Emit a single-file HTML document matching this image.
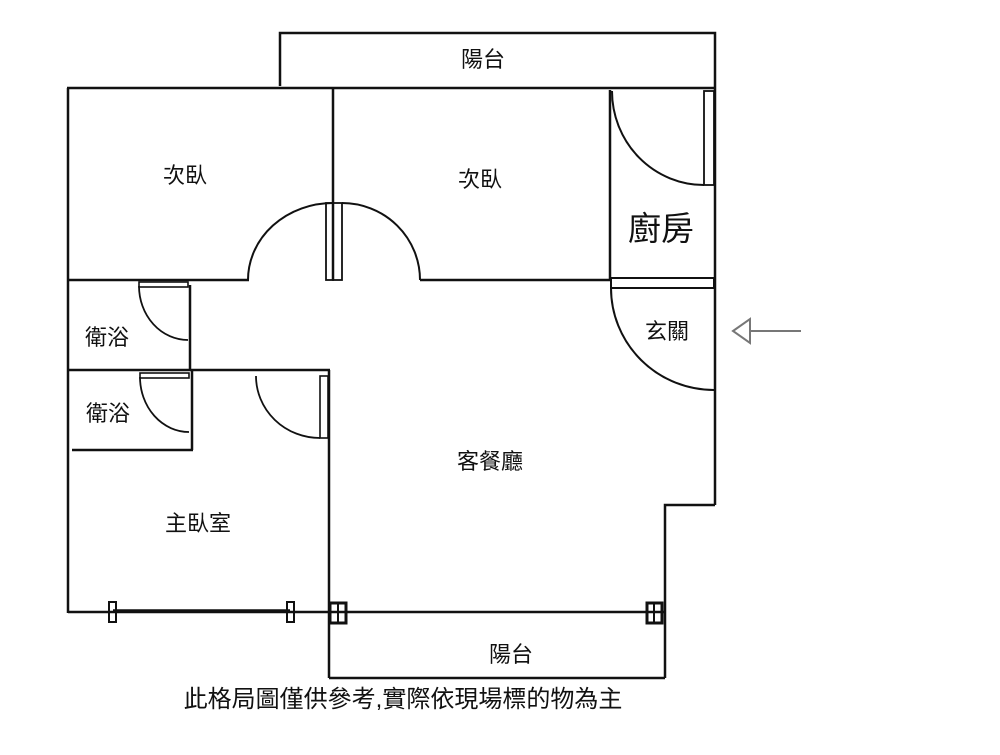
<!DOCTYPE html>
<html><head><meta charset="utf-8"><style>
html,body{margin:0;padding:0;background:#fff;}
svg text{font-family:"Liberation Sans","Noto Sans CJK TC",sans-serif;fill:#111;}
</style></head><body>
<svg width="1000" height="750" viewBox="0 0 1000 750" xmlns="http://www.w3.org/2000/svg">
<g stroke="#111" stroke-width="2.5" fill="none">
<polyline points="280,86 280,33 715,33 715,88"/>
<line x1="67" y1="88" x2="715" y2="88"/>
<line x1="68" y1="88" x2="68" y2="613"/>
<line x1="333" y1="88" x2="333" y2="280"/>
<rect x="326" y="203" width="7" height="77" stroke-width="1.8"/>
<rect x="333" y="203" width="9" height="77" stroke-width="1.8"/>
<path d="M248,280 A85,77 0 0 1 333,203" stroke-width="2"/>
<path d="M342,203 A78,77 0 0 1 420,280" stroke-width="2"/>
<line x1="68" y1="280" x2="249" y2="280"/>
<line x1="420" y1="280" x2="611" y2="280"/>
<line x1="610" y1="90" x2="610" y2="280"/>
<line x1="715" y1="88" x2="715" y2="505"/>
<rect x="704" y="91" width="10" height="94" stroke-width="1.8"/>
<path d="M612,91 A92,94 0 0 0 704,185" stroke-width="2"/>
<rect x="611" y="278" width="103" height="10" stroke-width="2"/>
<path d="M611,288 A103,102 0 0 0 714,390" stroke-width="2"/>
<polyline points="715,505 665,505 665,678"/>
<line x1="190" y1="285" x2="190" y2="370"/>
<rect x="139" y="282" width="49" height="5" stroke-width="1.6"/>
<path d="M139,286 A49,54 0 0 0 188,340" stroke-width="1.8"/>
<line x1="68" y1="370" x2="330" y2="370"/>
<rect x="140" y="373" width="49" height="5" stroke-width="1.6"/>
<path d="M140,377 A49,55 0 0 0 189,432" stroke-width="1.8"/>
<line x1="192" y1="370" x2="192" y2="450"/>
<line x1="72" y1="450" x2="193" y2="450"/>
<line x1="329" y1="370" x2="329" y2="678"/>
<rect x="320" y="376" width="8" height="62" stroke-width="1.6"/>
<path d="M256,376 A64,62 0 0 0 320,438" stroke-width="1.8"/>
<line x1="68" y1="612" x2="665" y2="612"/>
<line x1="113" y1="611" x2="290" y2="611" stroke-width="3.5"/>
<rect x="109" y="602" width="7" height="20" stroke-width="2"/>
<rect x="287" y="602" width="7" height="20" stroke-width="2"/>
<rect x="330" y="603" width="16" height="20" stroke-width="3"/>
<line x1="338" y1="603" x2="338" y2="623" stroke-width="2"/>
<rect x="647" y="603" width="15" height="20" stroke-width="3"/>
<line x1="654" y1="603" x2="654" y2="623" stroke-width="2"/>
<line x1="329" y1="678" x2="665" y2="678"/>
</g>
<g stroke="#777" stroke-width="2" fill="none">
<polygon points="733,331 750,319 750,343" fill="#fff"/>
<line x1="750" y1="331" x2="801" y2="331"/>
</g>
<g font-size="22" text-anchor="middle">
<text x="483" y="67">陽台</text>
<text x="185" y="183">次臥</text>
<text x="480" y="187">次臥</text>
<text x="661" y="240" font-size="33">廚房</text>
<text x="667" y="339">玄關</text>
<text x="107" y="345">衛浴</text>
<text x="108" y="421">衛浴</text>
<text x="490" y="469">客餐廳</text>
<text x="198" y="531">主臥室</text>
<text x="511" y="662">陽台</text>
<text x="403" y="707" font-size="24">此格局圖僅供參考,實際依現場標的物為主</text>
</g>
</svg>
</body></html>
